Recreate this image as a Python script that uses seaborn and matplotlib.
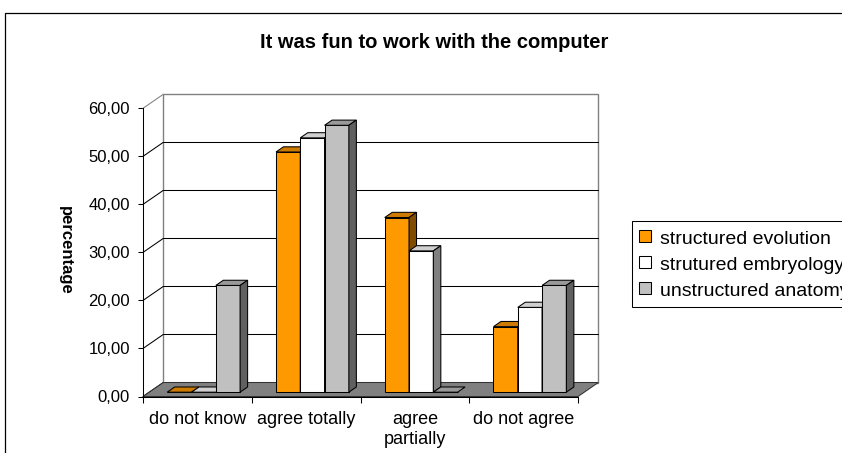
import matplotlib
matplotlib.use("Agg")
import matplotlib.pyplot as plt
import matplotlib.colors as mcolors
import numpy as np
import pandas as pd
import seaborn as sns
from matplotlib.patches import Polygon, Rectangle
from matplotlib.lines import Line2D
from matplotlib.transforms import ScaledTranslation, IdentityTransform

# ---- data -------------------------------------------------------------
categories = ["do not know", "agree totally", "agree\npartially", "do not agree"]
series = ["structured evolution", "strutured embryology", "unstructured anatomy"]
structured_evolution = [0.00, 50.00, 36.36, 13.64]
strutured_embryology = [0.00, 52.94, 29.41, 17.65]
unstructured_anatomy = [22.22, 55.56, 0.00, 22.22]
y_ticks = [0, 10, 20, 30, 40, 50, 60]
title = "It was fun to work with the computer"
y_label = "percentage"

# ---- styling ------------------------------------------------------------
front_colors = ["#FF9900", "#FFFFFF", "#C0C0C0"]
top_colors = ["#CC7A00", "#D0D0D0", "#999999"]
side_colors = ["#7F4C00", "#808080", "#606060"]

sns.set_style("white")
plt.rcParams["font.family"] = ["Liberation Sans", "DejaVu Sans"]
for key in ["text.color", "axes.labelcolor", "xtick.color", "ytick.color"]:
    plt.rcParams[key] = "black"

W, H, DPI = 842, 453, 100
fig = plt.figure(figsize=(W / DPI, H / DPI), dpi=DPI)
fig.patch.set_facecolor("white")

# front plane of the 3-D box, in pixels
x_left, x_right, y_bottom, y_top = 143, 578, 396.5, 108.3
ax = fig.add_axes([x_left / W, 1 - y_bottom / H,
                   (x_right - x_left) / W, (y_bottom - y_top) / H])
ax.set_facecolor("none")

df = pd.DataFrame({
    "category": categories * 3,
    "series": np.repeat(series, len(categories)),
    "value": structured_evolution + strutured_embryology + unstructured_anatomy,
})

sns.barplot(data=df, x="category", y="value", hue="series",
            palette=front_colors, saturation=1, width=0.67, gap=0,
            edgecolor="black", linewidth=0.75, errorbar=None,
            legend=False, ax=ax)
bars = list(ax.patches)

ax.set_xlim(-0.5, len(categories) - 0.5)
ax.set_ylim(0, 60)

# oblique depth direction (pixels for full depth of the box)
DX, DY = 20.3, 14.0
F0, F1 = 0.31, 0.68   # front / back depth fraction of the columns


def disp(x, y, f):
    p = ax.transData.transform((x, y))
    return (p[0] + DX * f, p[1] + DY * f)


def depth_shift(f):
    return ax.transData + ScaledTranslation(DX * f / DPI, DY * f / DPI,
                                            fig.dpi_scale_trans)


ident = IdentityTransform()
n = len(categories)

# back wall and its gridlines
ax.add_artist(Rectangle((-0.5, 0), n, 60, transform=depth_shift(1),
                        facecolor="white", edgecolor="#808080",
                        linewidth=1.0, zorder=0.5, clip_on=False))
for v in y_ticks[1:-1]:
    ax.add_artist(Line2D([-0.5, n - 0.5], [v, v], transform=depth_shift(1),
                         color="black", linewidth=0.75, zorder=0.6,
                         clip_on=False))
# left wall: diagonal gridlines
for v in y_ticks:
    a, b = disp(-0.5, v, 0), disp(-0.5, v, 1)
    col = "#808080" if v == y_ticks[-1] else "black"
    ax.add_artist(Line2D([a[0], b[0]], [a[1], b[1]], transform=ident,
                         color=col, linewidth=0.75, zorder=0.6,
                         clip_on=False))

# floor
ax.add_artist(Polygon([disp(-0.5, 0, 0), disp(n - 0.5, 0, 0),
                       disp(n - 0.5, 0, 1), disp(-0.5, 0, 1)],
                      closed=True, transform=ident, facecolor="#808080",
                      edgecolor="#333333", linewidth=0.75, zorder=0.8,
                      clip_on=False))

# columns: front face from seaborn, plus top and side faces
hex_front = [mcolors.to_hex(c) for c in front_colors]
bars_sorted = sorted(bars, key=lambda r: r.get_x())
for i, bar in enumerate(bars_sorted):
    k = hex_front.index(mcolors.to_hex(bar.get_facecolor()))
    x0 = bar.get_x()
    x1 = x0 + bar.get_width()
    h = bar.get_height()
    z = 3 + i * 0.01
    bar.set_transform(depth_shift(F0))
    bar.set_zorder(z)
    bar.set_clip_on(False)
    ax.add_artist(Polygon([disp(x0, h, F0), disp(x1, h, F0),
                           disp(x1, h, F1), disp(x0, h, F1)], closed=True,
                          transform=ident, facecolor=top_colors[k],
                          edgecolor="black", linewidth=0.75,
                          zorder=z + 0.001, clip_on=False))
    if h > 0:
        ax.add_artist(Polygon([disp(x1, 0, F0), disp(x1, h, F0),
                               disp(x1, h, F1), disp(x1, 0, F1)],
                              closed=True, transform=ident,
                              facecolor=side_colors[k], edgecolor="black",
                              linewidth=0.75, zorder=z + 0.002,
                              clip_on=False))

# axes, ticks and labels
for s in ["top", "right"]:
    ax.spines[s].set_visible(False)
for s in ["left", "bottom"]:
    ax.spines[s].set_color("black")
    ax.spines[s].set_linewidth(0.75)
    ax.spines[s].set_zorder(2)

ax.set_yticks(y_ticks)
ax.set_yticklabels([f"{v:.2f}".replace(".", ",") for v in y_ticks],
                   fontsize=12)
ax.tick_params(axis="y", direction="out", length=3.8, width=0.75,
               pad=5.5, left=True, colors="black")

ax.set_xticks(np.arange(n + 1) - 0.5)
ax.set_xticklabels([""] * (n + 1))
ax.set_xticks(np.arange(n), minor=True)
ax.set_xticklabels(categories, minor=True, fontsize=13, linespacing=1.25)
ax.tick_params(axis="x", which="major", direction="out", length=4.5,
               width=0.75, bottom=True, colors="black")
ax.tick_params(axis="x", which="minor", length=0, pad=10.5)
ax.set_xlabel("")

ax.set_ylabel(y_label, rotation=270, fontsize=12, fontweight="bold",
              va="center", ha="center")
ax.yaxis.set_label_coords((65 - x_left) / (x_right - x_left),
                          (y_bottom - 250) / (y_bottom - y_top))

fig.text(434 / W, 1 - 42 / H, title, ha="center", va="center",
         fontsize=14.5, fontweight="bold")

# legend
handles = [Line2D([], [], linestyle="None", marker="s", markersize=8.6,
                  markerfacecolor=c, markeredgecolor="black",
                  markeredgewidth=0.75)
           for c in front_colors]
leg = fig.legend(handles, series, loc="upper left",
                 bbox_to_anchor=(631.7 / W, 1 - 220.7 / H),
                 bbox_transform=fig.transFigure, fontsize=14,
                 frameon=True, fancybox=False, framealpha=1,
                 edgecolor="black", handlelength=0.62, handleheight=1.2,
                 handletextpad=0.5, borderpad=0.36, labelspacing=0.27,
                 borderaxespad=0)
leg.get_frame().set_linewidth(0.75)

# outer chart border
fig.add_artist(Rectangle((5 / W, -0.1), 1.0, 1 - 13 / H + 0.1,
                         transform=fig.transFigure, fill=False,
                         edgecolor="black", linewidth=0.9, zorder=0))

fig.savefig("out.png", dpi=DPI)
